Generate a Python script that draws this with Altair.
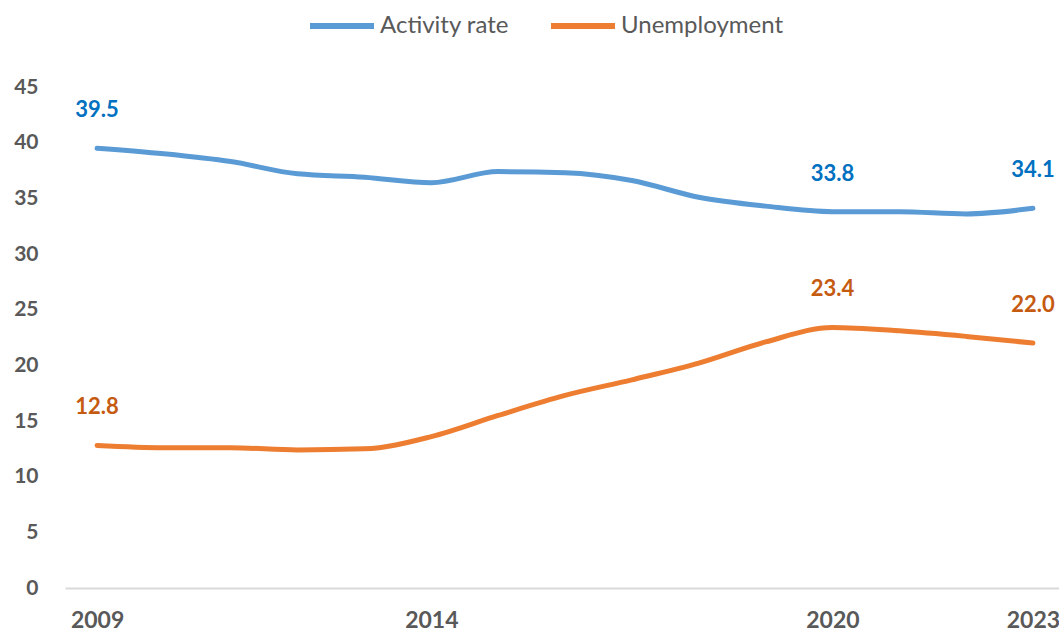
import altair as alt
import pandas as pd

years = list(range(2009, 2024))
activity = [39.5, 39.0, 38.3, 37.2, 36.9, 36.4, 37.4, 37.3, 36.6, 35.1, 34.3, 33.8, 33.8, 33.6, 34.1]
unemployment = [12.8, 12.6, 12.6, 12.4, 12.5, 13.6, 15.5, 17.3, 18.7, 20.2, 22.1, 23.4, 23.1, 22.6, 22.0]
series_names = ["Activity rate", "Unemployment"]
label_years = [2009, 2020, 2023]
x_ticks = [2009, 2014, 2020, 2023]
y_ticks = [0, 5, 10, 15, 20, 25, 30, 35, 40, 45]

rows = []
for yr, a, u in zip(years, activity, unemployment):
    rows.append({"year": yr, "series": series_names[0], "value": a})
    rows.append({"year": yr, "series": series_names[1], "value": u})
df = pd.DataFrame(rows)
lab = df[df["year"].isin(label_years)].copy()
lab["txt"] = lab["value"].map(lambda v: f"{v:.1f}")

FONT = "Lato"
GRAY = "#595959"

x = alt.X(
    "year:Q",
    scale=alt.Scale(domain=[2008.52, 2023.39], nice=False, zero=False),
    axis=alt.Axis(values=x_ticks, format="d", title=None, grid=False, ticks=False,
                  domainColor="#D9D9D9", domainWidth=2, labelFont=FONT, labelFontSize=23,
                  labelFontWeight="bold", labelColor=GRAY, labelPadding=21,
                  labelFlush=False, labelOverlap=False),
)
y = alt.Y(
    "value:Q",
    scale=alt.Scale(domain=[0, 45], nice=False),
    axis=alt.Axis(values=y_ticks, title=None, grid=False, ticks=False, domain=False,
                  labelFont=FONT, labelFontSize=21, labelFontWeight="bold",
                  labelColor=GRAY, labelPadding=27),
)

lines = alt.Chart(df).mark_line(strokeWidth=5, strokeCap="round", interpolate="monotone").encode(
    x=x,
    y=y,
    color=alt.Color(
        "series:N",
        scale=alt.Scale(domain=series_names, range=["#5B9BD5", "#ED7D31"]),
        legend=alt.Legend(orient="none", legendX=242, legendY=-96, direction="horizontal",
                          title=None, symbolType="stroke", symbolSize=4096,
                          symbolStrokeWidth=6, labelFont=FONT, labelFontSize=24,
                          labelColor=GRAY, columnPadding=30, labelOffset=3,
                          labelLimit=500),
    ),
)

texts = alt.Chart(lab).mark_text(dy=-38, fontSize=22, fontWeight="bold", font=FONT).encode(
    x=x,
    y=y,
    text="txt:N",
    fill=alt.Fill("series:N", scale=alt.Scale(domain=series_names, range=["#0070C0", "#C55A11"]),
                  legend=None),
)

chart = alt.layer(lines, texts).properties(
    width=994,
    height=501,
    autosize=alt.AutoSizeParams(type="none"),
    padding={"left": 65, "top": 87, "right": 0, "bottom": 44},
).configure_view(stroke=None)

chart.save("out.html", embed_options={"renderer": "svg", "actions": False})
